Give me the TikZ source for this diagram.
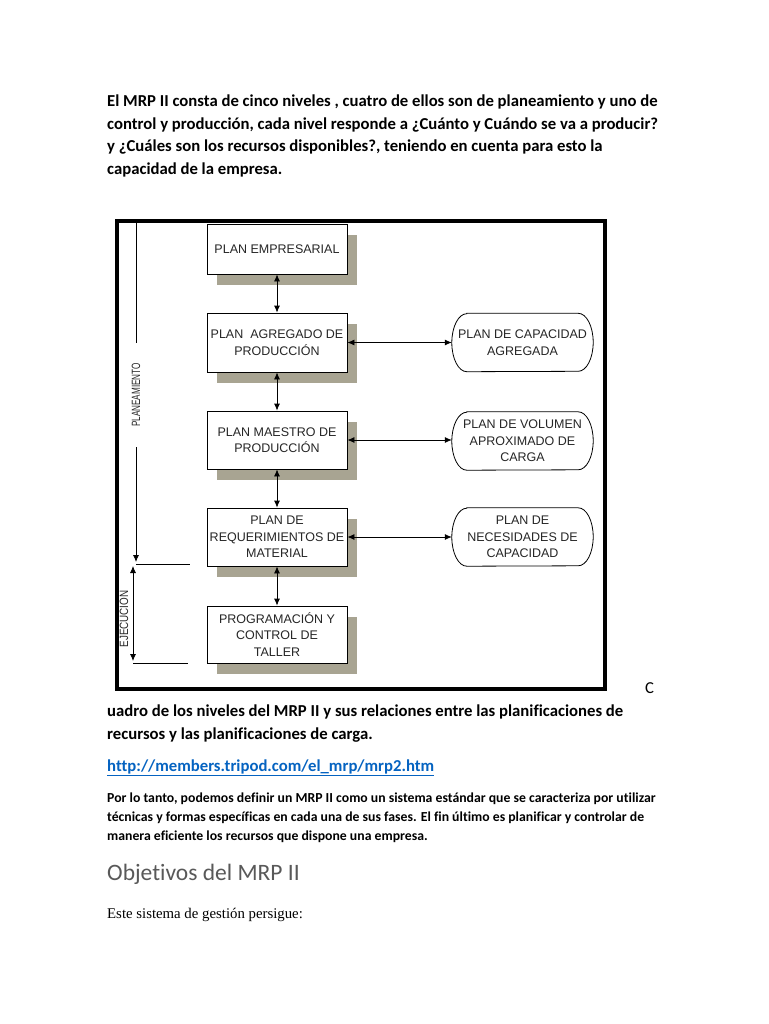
\documentclass[tikz,border=0pt]{standalone}
\usepackage{fontspec}
\setmainfont[Ligatures=NoCommon]{Carlito}
\newfontfamily\arialfont{Liberation Sans}
\newfontfamily\timesfont{Liberation Serif}
\usepackage[dvipsnames,svgnames]{xcolor}
\usepackage{tikz}
\usetikzlibrary{arrows.meta, positioning, shadows}
\definecolor{shadowbox}{RGB}{168,164,146}
\definecolor{linkblue}{RGB}{5,99,193}
\definecolor{headgray}{RGB}{89,89,89}

\begin{document}
\begin{tikzpicture}[
  x=1pt, y=-1pt,
  para/.style={anchor=base west, inner sep=0pt, font=\bfseries\fontsize{16.7}{19}\selectfont},
  small/.style={para, font=\bfseries\fontsize{13.75}{16}\selectfont},
  level/.style={rectangle, draw=black, line width=0.8pt, fill=white,
    minimum width=140pt, minimum height=58pt, inner sep=2pt, text=black!85,
    font=\arialfont\fontsize{12.5}{16.5}\selectfont, align=center,
    drop shadow={shadow xshift=10pt, shadow yshift=-11pt, fill=shadowbox, opacity=1}},
  loadplan/.style={rectangle, minimum width=141pt, minimum height=58pt, inner sep=0pt,
    text=black!85, font=\arialfont\fontsize{12.5}{16.5}\selectfont, align=center},
  sidelabel/.style={rotate=90, inner xsep=20pt, inner ysep=0pt, text=black!85,
    font=\arialfont\fontsize{12}{12}\selectfont},
  arr/.style={{Latex[length=7pt,width=6pt]}-{Latex[length=7pt,width=6pt]}, line width=0.8pt},
  tick/.style={line width=0.8pt}
]
  \fill[white] (0,0) rectangle (768,1024);
  \useasboundingbox (0,0) rectangle (768,1024);

  %% text above the figure
  \node[para] (p1a) at (107,107) {El MRP II consta de cinco niveles , cuatro de ellos son de planeamiento y uno de};
  \node[para] (p1b) at (107,129.5) {control y producción, cada nivel responde a ¿Cuánto y Cuándo se va a producir?};
  \node[para] (p1c) at (107,152) {y ¿Cuáles son los recursos disponibles?, teniendo en cuenta para esto la};
  \node[para] (p1d) at (107,174.5) {capacidad de la empresa.};

  %% frame of the figure
  \node[draw, line width=4pt, minimum width=488pt, minimum height=468pt, inner sep=0pt] (frame) at (361,455) {};

  %% levels
  \node[level, minimum height=50pt] (empresa) at (277,249) {PLAN EMPRESARIAL};
  \node[level, minimum height=59pt] (agregado) at (277,342.5) {PLAN\ \ AGREGADO DE\\PRODUCCIÓN};
  \node[level] (maestro) at (277,440) {PLAN MAESTRO DE\\PRODUCCIÓN};
  \node[level] (requer)  at (277,537) {PLAN DE\\REQUERIMIENTOS DE\\MATERIAL};
  \node[level, minimum height=57pt] (taller) at (277,634.5) {PROGRAMACIÓN Y\\CONTROL DE\\TALLER};

  %% load plans
  \node[loadplan] (capagr)   at (522.5,342.5) {PLAN DE CAPACIDAD\\AGREGADA};
  \node[loadplan] (volcarga) at (522.5,441) {PLAN DE VOLUMEN\\APROXIMADO DE\\CARGA};
  \node[loadplan] (necesid)  at (522.5,537) {PLAN DE\\NECESIDADES DE\\CAPACIDAD};
  \foreach \n in {capagr,volcarga,necesid}
    \draw[line width=0.8pt] ([xshift=15pt]\n.north west) -- ([xshift=-15pt]\n.north east)
      arc[start angle=90, end angle=-90, x radius=15pt, y radius=29pt]
      -- ([xshift=15pt]\n.south west)
      arc[start angle=270, end angle=90, x radius=15pt, y radius=29pt] -- cycle;

  \draw[arr] (empresa)  -- (agregado);
  \draw[arr] (agregado) -- (maestro);
  \draw[arr] (maestro)  -- (requer);
  \draw[arr] (requer)   -- (taller);
  \draw[arr] (agregado.east) -- (capagr.west);
  \draw[arr] (maestro.east)  -- (volcarga.west |- maestro.east);
  \draw[arr] (requer.east)   -- (necesid.west);

  %% planeamiento / ejecucion
  \coordinate (plantop) at (136,223);
  \coordinate (planend) at (136,562);
  \node[sidelabel] (planlbl) at (136,395) {\scalebox{0.68}[1]{PLANEAMIENTO}};
  \draw[tick] (plantop) -- (planlbl.east);
  \draw[tick, -{Latex[length=7pt,width=6pt]}] (planlbl.west) -- (planend);

  \coordinate (ejeA) at (136,564);
  \coordinate (ejeB) at (190,564);
  \coordinate (ejeC) at (133,663);
  \coordinate (ejeD) at (188,663);
  \coordinate (ejeup) at (133,566);
  \coordinate (ejedown) at (133,661);
  \node[sidelabel, inner xsep=0pt] (ejelbl) at (124,619) {\scalebox{0.82}[1]{EJECUCION}};
  \draw[tick] (ejeA) -- (ejeB);
  \draw[tick] (ejeC) -- (ejeD);
  \draw[arr] (ejeup) -- (ejedown);

  %% caption and text below
  \node[para, font=\fontsize{16.7}{19}\selectfont] (capc) at (645,693) {C};
  \node[para] (cap1) at (107,716) {uadro de los niveles del MRP II y sus relaciones entre las planificaciones de};
  \node[para] (cap2) at (107,739) {recursos y las planificaciones de carga.};
  \node[para, text=linkblue] (url) at (107,771) {\underline{http://members.tripod.com/el\_mrp/mrp2.htm}};

  \node[small] (p2a) at (107,802) {Por lo tanto, podemos definir un MRP II como un sistema estándar que se caracteriza por utilizar};
  \node[small] (p2b) at (107,821) {técnicas y formas específicas en cada una de sus fases. El fin último es planificar y controlar de};
  \node[small] (p2c) at (107,840) {manera eficiente los recursos que dispone una empresa.};

  \node[para, font=\fontsize{23.5}{26}\selectfont, text=headgray] (head) at (107,880) {Objetivos del MRP II};
  \node[para, font=\timesfont\fontsize{14.8}{17}\selectfont] (p3) at (107,918) {Este sistema de gestión persigue:};
\end{tikzpicture}
\end{document}
